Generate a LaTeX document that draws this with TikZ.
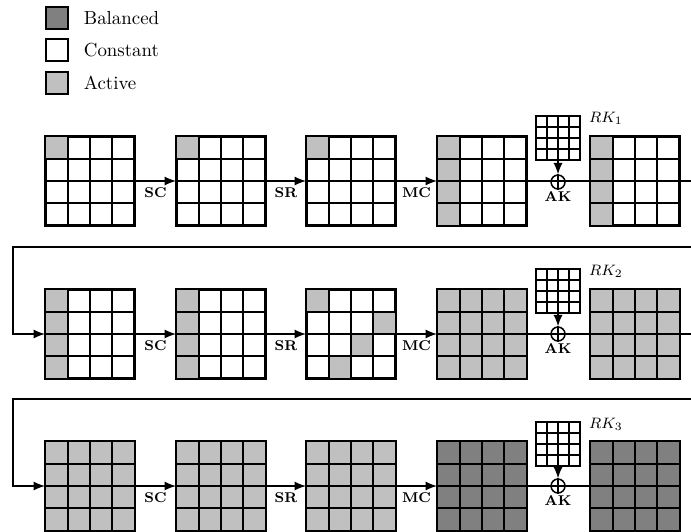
\documentclass[tikz,border=0pt]{standalone}
\usetikzlibrary{arrows.meta,calc,positioning}
\definecolor{activegray}{RGB}{192,192,192}
\definecolor{balancedgray}{RGB}{128,128,128}

\tikzset{
  statebox/.style={draw, line width=1.1pt, minimum size=46.64pt, inner sep=0pt},
  keybox/.style={draw, line width=0.8pt, minimum size=23.32pt, inner sep=0pt},
  legbox/.style={draw, line width=0.8pt, minimum size=11.66pt, inner sep=0pt},
  xorcirc/.style={draw, circle, line width=0.8pt, minimum size=7.4pt, inner sep=0pt},
  flow/.style={line width=0.7pt},
  oplabel/.style={font=\fontsize{7.5}{8}\selectfont\bfseries, inner sep=1pt},
  rklabel/.style={font=\fontsize{8}{9}\selectfont},
}

% state matrix: name, x, y (top left), colour, filled blocks c1/r1/c2/r2
\newcommand{\aesstate}[5]{%
  \node[statebox, fill=white] (#1) at (#2+44,#3+44) {};
  \foreach \ca/\ra/\cb/\rb in {#5}
    \fill[#4] (#2+22*\ca,#3+22*\ra) rectangle (#2+22*\cb,#3+22*\rb);
  \foreach \i in {1,2,3} {
    \draw[line width=1.1pt] (#2+22*\i,#3) -- ++(0,88);
    \draw[line width=1.1pt] (#2,#3+22*\i) -- ++(88,0);
  }
  \draw[line width=1.1pt] (#1.north west) rectangle (#1.south east);
}

% round key: name, x, y (top left)
\newcommand{\roundkey}[3]{%
  \node[keybox, fill=white] (#1) at (#2+22,#3+22) {};
  \foreach \i in {1,2,3} {
    \draw[line width=0.8pt] (#2+11*\i,#3) -- ++(0,44);
    \draw[line width=0.8pt] (#2,#3+11*\i) -- ++(44,0);
  }
}

\begin{document}
\begin{tikzpicture}[x=0.53pt, y=-0.53pt, >={Latex[length=6pt,width=4.8pt]}]
  \useasboundingbox (0,0) rectangle (691,531);
  \clip (0,0) rectangle (691,531);

  % legend
  \node[legbox, fill=balancedgray] (lbal) at (57,18) {};
  \node[legbox, fill=white] (lcon) at (57,50) {};
  \node[legbox, fill=activegray] (lact) at (57,83) {};
  \node[right=4.5pt of lbal] {Balanced};
  \node[right=4.5pt of lcon] {Constant};
  \node[right=4.5pt of lact] {Active};

  % round 1
  \aesstate{g11}{46}{137}{activegray}{0/0/1/1}
  \aesstate{g12}{177}{137}{activegray}{0/0/1/1}
  \aesstate{g13}{307}{137}{activegray}{0/0/1/1}
  \aesstate{g14}{438}{137}{activegray}{0/0/1/4}
  \aesstate{g15}{591}{137}{activegray}{0/0/1/4}
  \roundkey{k1}{536}{116}
  \node[xorcirc] (x1) at (558,182) {};
  \node[rklabel] (rk1) at (606,118) {$RK_1$};

  % round 2
  \aesstate{g21}{46}{290}{activegray}{0/0/1/4}
  \aesstate{g22}{177}{290}{activegray}{0/0/1/4}
  \aesstate{g23}{307}{290}{activegray}{0/0/1/1, 3/1/4/2, 2/2/3/3, 1/3/2/4}
  \aesstate{g24}{438}{290}{activegray}{0/0/4/4}
  \aesstate{g25}{591}{290}{activegray}{0/0/4/4}
  \roundkey{k2}{536}{269}
  \node[xorcirc] (x2) at (558,334) {};
  \node[rklabel] (rk2) at (606,271) {$RK_2$};

  % round 3
  \aesstate{g31}{46}{442}{activegray}{0/0/4/4}
  \aesstate{g32}{177}{442}{activegray}{0/0/4/4}
  \aesstate{g33}{307}{442}{activegray}{0/0/4/4}
  \aesstate{g34}{438}{442}{balancedgray}{0/0/4/4}
  \aesstate{g35}{591}{442}{balancedgray}{0/0/4/4}
  \roundkey{k3}{536}{422}
  \node[xorcirc] (x3) at (558,486) {};
  \node[rklabel] (rk3) at (606,424) {$RK_3$};

  % operations
  \foreach \r in {1,2,3} {
    \draw[flow,->] (g\r1) -- node[oplabel, below=2pt] {SC} (g\r2);
    \draw[flow,->] (g\r2) -- node[oplabel, below=2pt] {SR} (g\r3);
    \draw[flow,->] (g\r3) -- node[oplabel, below=2pt] {MC} (g\r4);
    \draw[flow] (g\r4.east) -- (g\r5.west);
    \draw[flow] (x\r.north) -- (x\r.south);
    \draw[flow,->] (k\r) -- (x\r);
    \node[oplabel, below=0pt of x\r] (ak\r) {AK};
  }

  % wrap to next round
  \coordinate (t1a) at (700,247);
  \coordinate (t1b) at (13,247);
  \coordinate (t2a) at (700,399);
  \coordinate (t2b) at (13,399);
  \draw[flow,->] (g15.east) -| (t1a) -- (t1b) |- (g21.west);
  \draw[flow,->] (g25.east) -| (t2a) -- (t2b) |- (g31.west);
\end{tikzpicture}
\end{document}
